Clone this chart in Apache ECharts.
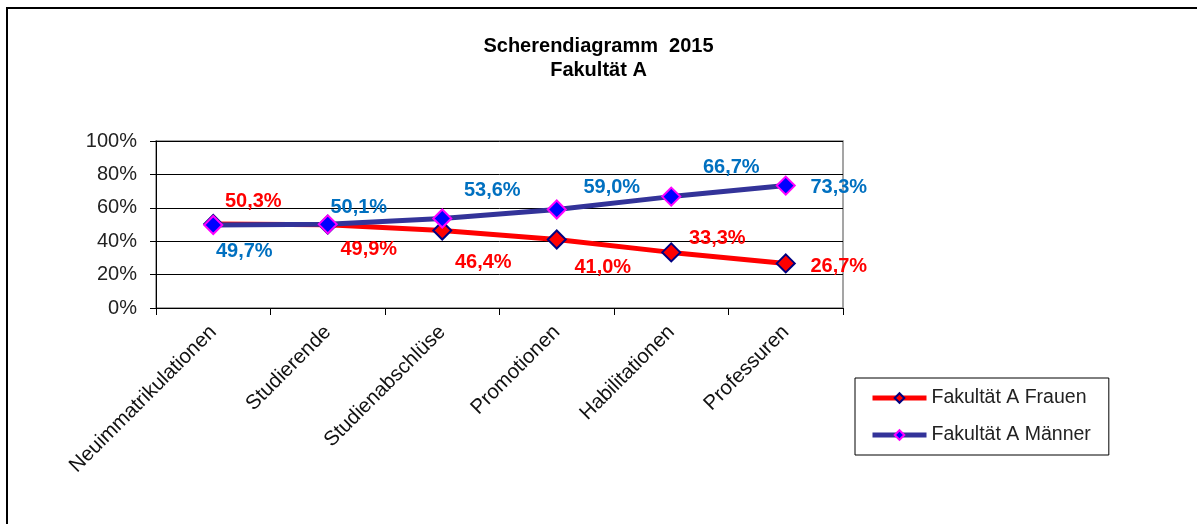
<!DOCTYPE html>
<html>
<head>
<meta charset="utf-8">
<script src="https://cdn.jsdelivr.net/npm/echarts@6/dist/echarts.min.js"></script>
<style>
html,body{margin:0;padding:0;background:#fff;}
#chart{width:1197px;height:524px;}
</style>
</head>
<body>
<div id="chart"></div>
<script>
// ---- data ----
var categories = ['Neuimmatrikulationen', 'Studierende', 'Studienabschlüse', 'Promotionen', 'Habilitationen', 'Professuren'];
var frauen = [50.3, 49.9, 46.4, 41.0, 33.3, 26.7];
var maenner = [49.7, 50.1, 53.6, 59.0, 66.7, 73.3];
var yTicks = [0, 20, 40, 60, 80, 100];
var seriesNames = ['Fakultät A Frauen', 'Fakultät A Männer'];
var titleText = 'Scherendiagramm  2015\nFakultät A';

// ---- label layout (offsets from point) ----
var frauenOffsets = [[40, -23], [41, 25], [41, 32], [46, 28], [46, -14], [53, 3]];
var maennerOffsets = [[31, 26], [31, -17], [50, -28], [55, -22], [60, -29], [53, 2]];

var FONT = 'Liberation Sans, Arial, sans-serif';
function fmt(v) { return v.toFixed(1).replace('.', ',') + '%'; }

function buildData(values, offsets, color) {
  return values.map(function (v, i) {
    return {
      value: v,
      label: {
        show: true,
        position: 'inside',
        offset: offsets[i],
        formatter: function (p) { return fmt(p.value); },
        color: color,
        fontSize: 20,
        fontWeight: 'bold',
        fontFamily: FONT
      }
    };
  });
}

var chart = echarts.init(document.getElementById('chart'), null, { renderer: 'canvas' });
chart.setOption({
  animation: false,
  backgroundColor: '#fff',
  title: {
    text: titleText,
    left: 'center',
    top: 29,
    textStyle: { fontSize: 20, fontWeight: 'bold', color: '#000', fontFamily: FONT, lineHeight: 24 }
  },
  graphic: [{
    type: 'rect',
    shape: { x: 7, y: 8, width: 1400, height: 700 },
    style: { fill: 'none', stroke: '#000', lineWidth: 2 },
    silent: true
  }],
  grid: {
    left: 156, right: 354, top: 141, bottom: 216,
    show: true, borderColor: '#888', borderWidth: 1.5, backgroundColor: 'transparent'
  },
  legend: {
    orient: 'vertical',
    left: 855, top: 378,
    padding: [10, 18, 10, 15],
    itemGap: 17,
    itemWidth: 54, itemHeight: 12,
    borderColor: '#000', borderWidth: 1,
    lineStyle: { width: 5 },
    textStyle: { fontSize: 19.5, color: '#222', fontFamily: FONT },
    data: seriesNames
  },
  xAxis: {
    type: 'category',
    data: categories,
    boundaryGap: true,
    axisLine: { lineStyle: { color: '#000', width: 1 } },
    axisTick: { show: true, inside: false, length: 7, lineStyle: { color: '#000' } },
    axisLabel: { rotate: 45, fontSize: 20.5, color: '#111', margin: 21, fontFamily: FONT, interval: 0 },
    splitLine: { show: false }
  },
  yAxis: {
    type: 'value',
    min: yTicks[0], max: yTicks[yTicks.length - 1], interval: 20,
    axisLine: { show: true, lineStyle: { color: '#000', width: 1 } },
    axisTick: { show: true, inside: false, length: 6, lineStyle: { color: '#000' } },
    axisLabel: { formatter: '{value}%', fontSize: 20, color: '#222', margin: 19, fontFamily: FONT },
    splitLine: { show: true, lineStyle: { color: '#000', width: 1 } }
  },
  series: [
    {
      name: seriesNames[0],
      type: 'line',
      data: buildData(frauen, frauenOffsets, '#ff0000'),
      symbol: 'diamond',
      symbolSize: 18,
      lineStyle: { color: '#ff0000', width: 5 },
      itemStyle: { color: '#ff0000', borderColor: '#000080', borderWidth: 2 },
      z: 2
    },
    {
      name: seriesNames[1],
      type: 'line',
      data: buildData(maenner, maennerOffsets, '#0070c0'),
      symbol: 'diamond',
      symbolSize: 18,
      lineStyle: { color: '#333399', width: 5 },
      itemStyle: { color: '#0000ff', borderColor: '#ff00ff', borderWidth: 2 },
      z: 3
    }
  ]
});
</script>
</body>
</html>
